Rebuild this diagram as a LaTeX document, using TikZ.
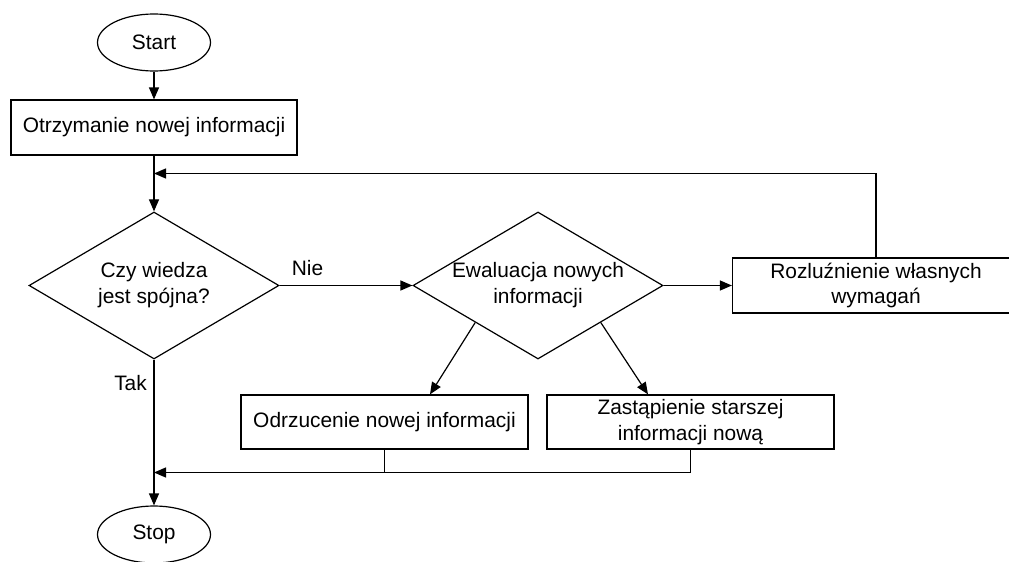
\documentclass[tikz,border=0pt]{standalone}
\usepackage{fontspec}
\setmainfont{Liberation Sans}
\usetikzlibrary{shapes.geometric,arrows.meta}
\begin{document}
\begin{tikzpicture}[x=1pt,y=-1pt,
  every node/.style={font=\fontsize{20.9}{26}\selectfont},
  line/.style={line width=1.2pt},
  arr/.style={line, -{Triangle[length=12pt,width=10pt]}},
  terminal/.style={draw, line width=1.2pt, ellipse, minimum width=113pt, minimum height=57pt, inner sep=0pt},
  process/.style={draw, line width=1.2pt, rectangle, minimum width=287pt, minimum height=55pt, align=center, inner sep=0pt},
  decision/.style={draw, line width=1.2pt, diamond, minimum width=250pt, minimum height=147pt, inner sep=0pt},
  lbl/.style={align=center, inner sep=0pt}
]
\clip (0,0) rectangle (1009,562);

% terminals and steps
\node[terminal] (start) at (154,42.5) {Start};
\node[process, minimum width=286pt] (recv) at (154,127.5) {Otrzymanie nowej informacji};
\node[decision] (cons) at (154,285.5) {};
\node[lbl] (consT) at (cons) {Czy wiedza\\jest spójna?};
\node[decision] (eval) at (538,285.5) {};
\node[lbl] (evalT) at (eval) {Ewaluacja nowych\\informacji};
\node[process, font=\fontsize{20.9}{25.5}\selectfont] (relax) at (876,285.5) {Rozluźnienie własnych\\wymagań};
\node[process, minimum height=54pt] (reject) at (384.5,422) {Odrzucenie nowej informacji};
\node[process, minimum height=54pt, font=\fontsize{20.9}{25.5}\selectfont] (replace) at (690.5,422) {Zastąpienie starszej\\informacji nową};
\node[terminal] (stop) at (154,534.5) {Stop};

% junction points
\coordinate (loopin) at (154,173.5);
\coordinate (joinin) at (154,472.5);

% connectors
\draw[arr] (start) -- (recv);
\draw[arr] (recv) -- (cons);
\draw[arr] (cons.east) -- node[lbl, pos=0.21, yshift=17pt] (nie) {Nie} (eval.west);
\draw[arr] (eval.east) -- (relax.west);
\draw[arr] (relax.north) |- (loopin);
\draw[arr] (eval.south west) -- ([xshift=45.5pt]reject.north);
\draw[arr] (eval.south east) -- ([xshift=-42.5pt]replace.north);
\draw[line] (reject.south) -- (reject.south |- joinin);
\draw[arr] (replace.south) |- (joinin);
\draw[arr] (cons.south) -- (stop.north);
\node[lbl, anchor=east] (tak) at (147,383) {Tak};
\end{tikzpicture}
\end{document}
